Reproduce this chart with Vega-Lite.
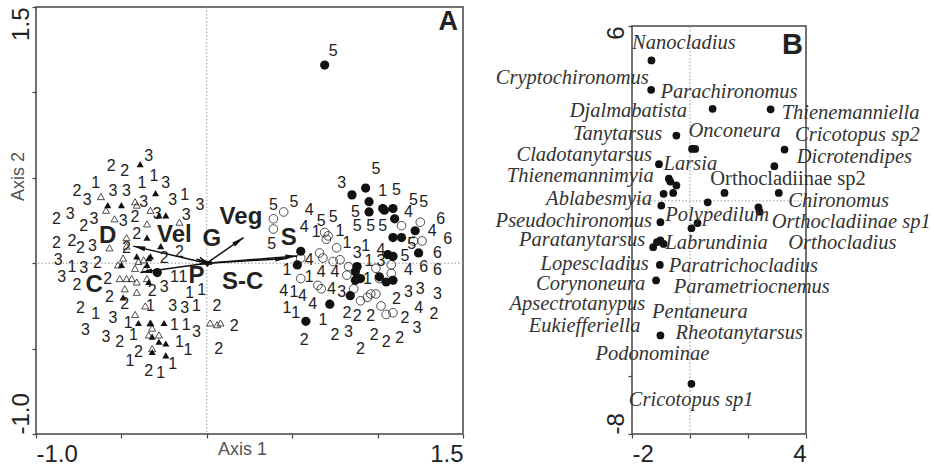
{
"$schema": "https://vega.github.io/schema/vega-lite/v6.json",
"padding": {"left": 8, "top": 5, "right": 2, "bottom": 2},
"background": "white",
"spacing": 30,
"config": {
  "axis": {"grid": false, "domain": false, "labelFont": "Liberation Sans", "labelFontSize": 24, "labelColor": "#222", "tickColor": "#444", "tickSize": 4, "tickWidth": 1.2, "labelOverlap": false, "titleFont": "Liberation Sans", "titleFontSize": 18, "titleFontWeight": "normal", "titleColor": "#555"},
  "text": {"font": "Liberation Sans"}
},
"datasets": {
  "one": [{"k": 1}],
  "sites": [
    {"x":0.69,"y":1.16,"t":"fc"},{"x":0.93,"y":0.44,"t":"fc"},{"x":0.85,"y":0.40,"t":"fc"},{"x":0.95,"y":0.36,"t":"fc"},{"x":1.03,"y":0.32,"t":"fc"},{"x":1.09,"y":0.32,"t":"fc"},{"x":0.95,"y":0.30,"t":"fc"},{"x":1.04,"y":0.31,"t":"fc"},{"x":1.10,"y":0.26,"t":"fc"},{"x":1.22,"y":0.19,"t":"fc"},{"x":1.09,"y":0.15,"t":"fc"},{"x":1.14,"y":0.15,"t":"fc"},{"x":1.24,"y":0.06,"t":"fc"},{"x":0.55,"y":0.07,"t":"fc"},{"x":0.53,"y":-0.01,"t":"fc"},{"x":1.06,"y":0.05,"t":"fc"},{"x":1.09,"y":0.04,"t":"fc"},{"x":0.88,"y":-0.02,"t":"fc"},{"x":0.87,"y":-0.05,"t":"fc"},{"x":0.90,"y":-0.09,"t":"fc"},{"x":0.87,"y":-0.10,"t":"fc"},{"x":1.01,"y":-0.08,"t":"fc"},{"x":1.05,"y":-0.11,"t":"fc"},{"x":1.09,"y":-0.10,"t":"fc"},{"x":0.84,"y":-0.19,"t":"fc"},{"x":0.72,"y":-0.24,"t":"fc"},{"x":0.58,"y":-0.34,"t":"fc"},{"x":-0.29,"y":-0.055,"t":"fc"},
    {"x":0.39,"y":0.26,"t":"oc"},{"x":0.45,"y":0.30,"t":"oc"},{"x":0.39,"y":0.20,"t":"oc"},{"x":0.69,"y":0.18,"t":"oc"},{"x":0.71,"y":0.16,"t":"oc"},{"x":0.70,"y":0.14,"t":"oc"},{"x":0.76,"y":0.09,"t":"oc"},{"x":0.66,"y":0.06,"t":"oc"},{"x":0.68,"y":0.03,"t":"oc"},{"x":0.78,"y":0.02,"t":"oc"},{"x":0.74,"y":0.01,"t":"oc"},{"x":0.83,"y":-0.02,"t":"oc"},{"x":0.82,"y":-0.07,"t":"oc"},{"x":0.86,"y":-0.15,"t":"oc"},{"x":0.90,"y":-0.22,"t":"oc"},{"x":0.94,"y":-0.20,"t":"oc"},{"x":0.96,"y":-0.18,"t":"oc"},{"x":0.99,"y":-0.18,"t":"oc"},{"x":1.02,"y":-0.25,"t":"oc"},{"x":1.05,"y":-0.30,"t":"oc"},{"x":1.09,"y":-0.29,"t":"oc"},{"x":1.14,"y":0.22,"t":"oc"},{"x":1.25,"y":0.24,"t":"oc"},{"x":1.26,"y":0.13,"t":"oc"},{"x":1.21,"y":0.13,"t":"oc"},{"x":1.08,"y":-0.01,"t":"oc"},{"x":1.08,"y":-0.06,"t":"oc"},{"x":0.55,"y":0.03,"t":"oc"},{"x":0.55,"y":-0.09,"t":"oc"},{"x":0.65,"y":-0.13,"t":"oc"},{"x":0.67,"y":-0.15,"t":"oc"},{"x":1.01,"y":-0.09,"t":"oc"},{"x":0.99,"y":-0.03,"t":"oc"},
    {"x":-0.39,"y":0.58,"t":"ft"},{"x":-0.30,"y":0.41,"t":"ft"},{"x":-0.58,"y":0.34,"t":"ft"},{"x":-0.50,"y":0.34,"t":"ft"},{"x":-0.24,"y":0.28,"t":"ft"},{"x":-0.28,"y":0.28,"t":"ft"},{"x":-0.35,"y":0.15,"t":"ft"},{"x":-0.27,"y":0.10,"t":"ft"},{"x":-0.41,"y":0.04,"t":"ft"},{"x":-0.33,"y":0.04,"t":"ft"},{"x":-0.34,"y":0.03,"t":"ft"},{"x":-0.50,"y":-0.01,"t":"ft"},{"x":-0.35,"y":-0.01,"t":"ft"},{"x":-0.49,"y":-0.20,"t":"ft"},{"x":-0.40,"y":-0.35,"t":"ft"},{"x":-0.33,"y":-0.35,"t":"ft"},{"x":-0.25,"y":-0.35,"t":"ft"},{"x":-0.32,"y":-0.43,"t":"ft"},{"x":-0.28,"y":-0.46,"t":"ft"},{"x":-0.24,"y":-0.47,"t":"ft"},{"x":-0.32,"y":-0.52,"t":"ft"},{"x":-0.24,"y":-0.54,"t":"ft"},{"x":-0.34,"y":-0.11,"t":"ft"},
    {"x":-0.62,"y":0.39,"t":"ot"},{"x":-0.59,"y":0.31,"t":"ot"},{"x":-0.54,"y":0.26,"t":"ot"},{"x":-0.42,"y":0.36,"t":"ot"},{"x":-0.41,"y":0.34,"t":"ot"},{"x":-0.33,"y":0.31,"t":"ot"},{"x":-0.35,"y":0.23,"t":"ot"},{"x":-0.47,"y":0.15,"t":"ot"},{"x":-0.16,"y":0.24,"t":"ot"},{"x":-0.57,"y":0.09,"t":"ot"},{"x":-0.47,"y":0.10,"t":"ot"},{"x":-0.49,"y":0.03,"t":"ot"},{"x":-0.52,"y":-0.01,"t":"ot"},{"x":-0.42,"y":-0.03,"t":"ot"},{"x":-0.40,"y":0.01,"t":"ot"},{"x":-0.37,"y":0.02,"t":"ot"},{"x":-0.36,"y":-0.03,"t":"ot"},{"x":-0.51,"y":-0.09,"t":"ot"},{"x":-0.47,"y":-0.09,"t":"ot"},{"x":-0.44,"y":-0.09,"t":"ot"},{"x":-0.41,"y":-0.11,"t":"ot"},{"x":-0.48,"y":-0.15,"t":"ot"},{"x":-0.41,"y":-0.17,"t":"ot"},{"x":-0.35,"y":-0.09,"t":"ot"},{"x":-0.36,"y":-0.25,"t":"ot"},{"x":-0.42,"y":-0.30,"t":"ot"},{"x":-0.33,"y":-0.35,"t":"ot"},{"x":-0.32,"y":-0.38,"t":"ot"},{"x":-0.34,"y":-0.42,"t":"ot"},{"x":-0.28,"y":-0.42,"t":"ot"},{"x":-0.32,"y":-0.50,"t":"ot"},{"x":0.02,"y":-0.35,"t":"ot"},{"x":0.06,"y":-0.36,"t":"ot"},{"x":0.08,"y":-0.35,"t":"ot"}
  ],
  "siteLabels": [
    {"x":-0.34,"y":0.63,"n":"3"},{"x":-0.56,"y":0.57,"n":"2"},{"x":-0.48,"y":0.54,"n":"2"},{"x":-0.65,"y":0.47,"n":"1"},{"x":-0.38,"y":0.47,"n":"1"},{"x":-0.31,"y":0.51,"n":"1"},{"x":-0.24,"y":0.47,"n":"3"},{"x":-0.76,"y":0.42,"n":"2"},{"x":-0.70,"y":0.37,"n":"3"},{"x":-0.55,"y":0.42,"n":"3"},{"x":-0.47,"y":0.42,"n":"3"},{"x":-0.37,"y":0.36,"n":"3"},{"x":-0.20,"y":0.37,"n":"3"},{"x":-0.13,"y":0.40,"n":"1"},{"x":-0.04,"y":0.34,"n":"3"},{"x":-0.88,"y":0.26,"n":"2"},{"x":-0.80,"y":0.29,"n":"3"},{"x":-0.72,"y":0.22,"n":"2"},{"x":-0.66,"y":0.26,"n":"3"},{"x":-0.49,"y":0.25,"n":"3"},{"x":-0.42,"y":0.27,"n":"2"},{"x":-0.29,"y":0.29,"n":"3"},{"x":-0.12,"y":0.28,"n":"3"},{"x":-0.88,"y":0.12,"n":"2"},{"x":-0.79,"y":0.13,"n":"2"},{"x":-0.74,"y":0.09,"n":"2"},{"x":-0.67,"y":0.10,"n":"3"},{"x":-0.41,"y":0.17,"n":"2"},{"x":-0.47,"y":0.09,"n":"2"},{"x":-0.25,"y":0.03,"n":"2"},{"x":-0.16,"y":0.065,"n":"2"},{"x":-0.87,"y":0.02,"n":"3"},{"x":-0.79,"y":-0.02,"n":"1"},{"x":-0.72,"y":-0.03,"n":"3"},{"x":-0.64,"y":0.00,"n":"2"},{"x":-0.85,"y":-0.08,"n":"3"},{"x":-0.76,"y":-0.13,"n":"2"},{"x":-0.58,"y":-0.09,"n":"2"},{"x":-0.19,"y":-0.08,"n":"1"},{"x":-0.14,"y":-0.08,"n":"1"},{"x":-0.32,"y":-0.16,"n":"2"},{"x":-0.25,"y":-0.14,"n":"3"},{"x":-0.10,"y":-0.175,"n":"1"},{"x":-0.03,"y":-0.155,"n":"1"},{"x":-0.57,"y":-0.20,"n":"2"},{"x":-0.48,"y":-0.24,"n":"2"},{"x":-0.74,"y":-0.26,"n":"2"},{"x":-0.65,"y":-0.30,"n":"1"},{"x":-0.55,"y":-0.32,"n":"3"},{"x":-0.46,"y":-0.35,"n":"1"},{"x":-0.33,"y":-0.25,"n":"1"},{"x":-0.20,"y":-0.25,"n":"3"},{"x":-0.13,"y":-0.26,"n":"3"},{"x":-0.06,"y":-0.25,"n":"1"},{"x":0.06,"y":-0.25,"n":"2"},{"x":-0.71,"y":-0.39,"n":"3"},{"x":-0.59,"y":-0.43,"n":"3"},{"x":-0.51,"y":-0.46,"n":"2"},{"x":-0.43,"y":-0.42,"n":"1"},{"x":-0.19,"y":-0.36,"n":"1"},{"x":-0.12,"y":-0.36,"n":"1"},{"x":-0.06,"y":-0.40,"n":"3"},{"x":0.16,"y":-0.37,"n":"2"},{"x":-0.16,"y":-0.46,"n":"1"},{"x":-0.11,"y":-0.51,"n":"1"},{"x":0.07,"y":-0.50,"n":"2"},{"x":-0.40,"y":-0.52,"n":"2"},{"x":-0.45,"y":-0.57,"n":"1"},{"x":-0.34,"y":-0.63,"n":"2"},{"x":-0.27,"y":-0.64,"n":"1"},{"x":-0.20,"y":-0.59,"n":"1"},
    {"x":0.74,"y":1.24,"n":"5"},{"x":0.99,"y":0.55,"n":"5"},{"x":0.79,"y":0.47,"n":"3"},{"x":1.03,"y":0.42,"n":"1"},{"x":1.11,"y":0.43,"n":"5"},{"x":1.21,"y":0.37,"n":"5"},{"x":1.27,"y":0.36,"n":"5"},{"x":0.39,"y":0.34,"n":"5"},{"x":0.51,"y":0.36,"n":"5"},{"x":0.60,"y":0.31,"n":"4"},{"x":1.18,"y":0.30,"n":"4"},{"x":0.67,"y":0.25,"n":"5"},{"x":0.74,"y":0.27,"n":"5"},{"x":0.87,"y":0.30,"n":"5"},{"x":1.37,"y":0.26,"n":"6"},{"x":0.57,"y":0.21,"n":"4"},{"x":0.64,"y":0.18,"n":"1"},{"x":0.78,"y":0.19,"n":"1"},{"x":0.88,"y":0.22,"n":"5"},{"x":0.96,"y":0.22,"n":"5"},{"x":1.03,"y":0.22,"n":"5"},{"x":1.32,"y":0.19,"n":"4"},{"x":1.41,"y":0.14,"n":"6"},{"x":0.38,"y":0.11,"n":"5"},{"x":0.82,"y":0.12,"n":"1"},{"x":0.93,"y":0.10,"n":"1"},{"x":1.02,"y":0.08,"n":"4"},{"x":1.20,"y":0.11,"n":"5"},{"x":0.88,"y":0.06,"n":"3"},{"x":0.95,"y":0.01,"n":"1"},{"x":1.02,"y":0.01,"n":"3"},{"x":1.16,"y":0.04,"n":"5"},{"x":1.35,"y":0.06,"n":"6"},{"x":0.60,"y":0.02,"n":"4"},{"x":0.47,"y":-0.04,"n":"1"},{"x":0.60,"y":-0.08,"n":"1"},{"x":0.67,"y":-0.05,"n":"4"},{"x":0.75,"y":-0.05,"n":"4"},{"x":0.94,"y":-0.09,"n":"1"},{"x":1.27,"y":-0.02,"n":"6"},{"x":1.35,"y":-0.04,"n":"6"},{"x":1.18,"y":-0.04,"n":"4"},{"x":0.45,"y":-0.16,"n":"4"},{"x":0.51,"y":-0.17,"n":"1"},{"x":0.56,"y":-0.19,"n":"4"},{"x":0.73,"y":-0.15,"n":"4"},{"x":0.79,"y":-0.17,"n":"3"},{"x":1.18,"y":-0.17,"n":"3"},{"x":1.25,"y":-0.15,"n":"3"},{"x":1.35,"y":-0.18,"n":"3"},{"x":1.11,"y":-0.21,"n":"2"},{"x":0.47,"y":-0.26,"n":"1"},{"x":0.52,"y":-0.29,"n":"1"},{"x":0.62,"y":-0.24,"n":"4"},{"x":0.82,"y":-0.29,"n":"2"},{"x":0.88,"y":-0.31,"n":"2"},{"x":0.96,"y":-0.31,"n":"2"},{"x":1.24,"y":-0.26,"n":"4"},{"x":1.33,"y":-0.30,"n":"2"},{"x":0.68,"y":-0.33,"n":"1"},{"x":1.16,"y":-0.32,"n":"2"},{"x":1.23,"y":-0.38,"n":"3"},{"x":0.57,"y":-0.45,"n":"2"},{"x":0.75,"y":-0.42,"n":"2"},{"x":0.83,"y":-0.40,"n":"3"},{"x":0.90,"y":-0.50,"n":"2"},{"x":0.98,"y":-0.42,"n":"2"},{"x":1.05,"y":-0.46,"n":"2"},{"x":1.13,"y":-0.44,"n":"2"}
  ],
  "vectors": [
    {"v":"D","x":-0.43,"y":0.10},{"v":"Vel","x":-0.06,"y":0.025},{"v":"G","x":-0.04,"y":0.035},{"v":"Veg","x":0.215,"y":0.15},{"v":"S","x":0.53,"y":0.042},{"v":"C","x":-0.39,"y":-0.055},{"v":"P","x":-0.04,"y":-0.005},{"v":"S-C","x":0.47,"y":0.028}
  ],
  "vecLabels": [
    {"v":"D","x":-0.58,"y":0.16},{"v":"Vel","x":-0.19,"y":0.165},{"v":"G","x":0.03,"y":0.14},{"v":"Veg","x":0.20,"y":0.27},{"v":"S","x":0.48,"y":0.15},{"v":"C","x":-0.66,"y":-0.13},{"v":"P","x":-0.06,"y":-0.075},{"v":"S-C","x":0.21,"y":-0.11}
  ],
  "species": [
    {"x":-1.33,"y":4.82},{"x":-1.34,"y":3.81},{"x":0.78,"y":3.16},{"x":2.78,"y":3.14},{"x":-0.47,"y":2.24},{"x":0.07,"y":1.78},{"x":0.18,"y":1.78},{"x":3.26,"y":1.76},{"x":-1.07,"y":1.26},{"x":2.91,"y":1.19},{"x":-0.73,"y":0.76},{"x":-0.68,"y":0.66},{"x":-0.47,"y":0.53},{"x":-0.91,"y":0.24},{"x":-0.58,"y":0.27},{"x":1.19,"y":0.27},{"x":3.06,"y":0.27},{"x":-0.99,"y":-0.16},{"x":0.61,"y":-0.05},{"x":2.36,"y":-0.22},{"x":2.40,"y":-0.37},{"x":-1.02,"y":-0.73},{"x":0.26,"y":-0.76},{"x":0.05,"y":-0.94},{"x":-1.02,"y":-1.36},{"x":-1.14,"y":-1.42},{"x":-0.91,"y":-1.48},{"x":-1.27,"y":-1.59},{"x":-1.04,"y":-2.20},{"x":-1.17,"y":-2.73},{"x":-1.02,"y":-4.62},{"x":0.05,"y":-6.28}
  ],
  "speciesLabels": [
    {"name":"Cryptochironomus","x":-1.42,"y":4.21,"side":"R"},{"name":"Djalmabatista","x":-0.10,"y":3.07,"side":"R"},{"name":"Tanytarsus","x":-0.96,"y":2.30,"side":"R"},{"name":"Cladotanytarsus","x":-1.31,"y":1.59,"side":"R"},{"name":"Thienemannimyia","x":-1.25,"y":0.85,"side":"R"},{"name":"Ablabesmyia","x":-1.31,"y":0.05,"side":"R"},{"name":"Pseudochironomus","x":-1.31,"y":-0.68,"side":"R"},{"name":"Paratanytarsus","x":-1.54,"y":-1.33,"side":"R"},{"name":"Lopescladius","x":-1.42,"y":-2.16,"side":"R"},{"name":"Corynoneura","x":-1.54,"y":-2.85,"side":"R"},{"name":"Apsectrotanypus","x":-1.54,"y":-3.54,"side":"R"},{"name":"Eukiefferiella","x":-1.71,"y":-4.28,"side":"R"},
    {"name":"Nanocladius","x":-2.0,"y":5.42,"side":"L"},{"name":"Parachironomus","x":-1.02,"y":3.73,"side":"L"},{"name":"Thienemanniella","x":3.16,"y":3.02,"side":"L"},{"name":"Onconeura","x":-0.05,"y":2.41,"side":"L"},{"name":"Cricotopus sp2","x":3.62,"y":2.25,"side":"L"},{"name":"Dicrotendipes","x":3.68,"y":1.50,"side":"L"},{"name":"Larsia","x":-0.91,"y":1.28,"side":"L"},{"name":"Orthocladiinae sp2","x":0.70,"y":0.76,"side":"N"},{"name":"Chironomus","x":3.39,"y":0.01,"side":"L"},{"name":"Polypedilum","x":-0.85,"y":-0.50,"side":"L"},{"name":"Orthocladiinae sp1","x":2.82,"y":-0.71,"side":"L"},{"name":"Labrundinia","x":-0.85,"y":-1.44,"side":"L"},{"name":"Orthocladius","x":3.39,"y":-1.44,"side":"L"},{"name":"Paratrichocladius","x":-0.73,"y":-2.22,"side":"L"},{"name":"Parametriocnemus","x":-0.56,"y":-2.96,"side":"L"},{"name":"Pentaneura","x":-1.31,"y":-3.80,"side":"L"},{"name":"Rheotanytarsus","x":-0.50,"y":-4.54,"side":"L"},{"name":"Podonominae","x":-3.26,"y":-5.25,"side":"L"},{"name":"Cricotopus sp1","x":-2.11,"y":-6.85,"side":"L"}
  ]
},
"hconcat": [
  {
    "width": 427, "height": 427,
    "view": {"stroke": "#444", "strokeWidth": 1.5},
    "layer": [
      {"data": {"name": "one"}, "mark": {"type": "rule", "strokeDash": [1.5, 2], "color": "#999", "strokeWidth": 1}, "encoding": {"x": {"datum": 0, "type": "quantitative"}}},
      {"data": {"name": "one"}, "mark": {"type": "rule", "strokeDash": [1.5, 2], "color": "#999", "strokeWidth": 1}, "encoding": {"y": {"datum": 0, "type": "quantitative"}}},
      {"data": {"name": "sites"}, "transform": [{"filter": "datum.t == 'ot'"}],
       "mark": {"type": "point", "shape": "triangle-up", "size": 50, "filled": false, "color": "#222", "strokeWidth": 0.8, "opacity": 1},
       "encoding": {
         "x": {"field": "x", "type": "quantitative", "scale": {"domain": [-1, 1.5], "nice": false, "zero": false},
               "axis": {"title": "Axis 1", "values": [-1, -0.5, 0, 0.5, 1, 1.5], "labelExpr": "datum.value == -1 ? '-1.0' : datum.value == 1.5 ? '1.5' : ''", "labelFlush": true, "labelPadding": 4, "titleX": 206, "titleY": 15, "titleAlign": "center", "titleBaseline": "middle"}},
         "y": {"field": "y", "type": "quantitative", "scale": {"domain": [-1, 1.5], "nice": false, "zero": false},
               "axis": {"title": "Axis 2", "values": [-1, -0.5, 0, 0.5, 1, 1.5], "labelExpr": "datum.value == -1 ? '-1.0' : datum.value == 1.5 ? '1.5' : ''", "labelAngle": -90, "labelAlign": {"condition": {"test": "datum.value == 1.5", "value": "right"}, "value": "left"}, "labelBaseline": "alphabetic", "labelPadding": 4, "titleX": -18, "titleY": 169, "titleAngle": -90, "titleAlign": "center", "titleBaseline": "middle"}}
       }},
      {"data": {"name": "sites"}, "transform": [{"filter": "datum.t == 'oc'"}],
       "mark": {"type": "point", "shape": "circle", "size": 75, "filled": false, "color": "#222", "strokeWidth": 0.8, "opacity": 1},
       "encoding": {"x": {"field": "x", "type": "quantitative"}, "y": {"field": "y", "type": "quantitative"}}},
      {"data": {"name": "sites"}, "transform": [{"filter": "datum.t == 'ft'"}],
       "mark": {"type": "point", "shape": "triangle-up", "size": 50, "filled": true, "color": "#111", "opacity": 1},
       "encoding": {"x": {"field": "x", "type": "quantitative"}, "y": {"field": "y", "type": "quantitative"}}},
      {"data": {"name": "sites"}, "transform": [{"filter": "datum.t == 'fc'"}],
       "mark": {"type": "point", "shape": "circle", "size": 85, "filled": true, "color": "#111", "opacity": 1},
       "encoding": {"x": {"field": "x", "type": "quantitative"}, "y": {"field": "y", "type": "quantitative"}}},
      {"data": {"name": "siteLabels"},
       "mark": {"type": "text", "fontSize": 16, "color": "#222", "align": "center", "baseline": "middle"},
       "encoding": {"x": {"field": "x", "type": "quantitative"}, "y": {"field": "y", "type": "quantitative"}, "text": {"field": "n", "type": "nominal"}}},
      {"data": {"name": "vectors"},
       "mark": {"type": "rule", "color": "#111", "strokeWidth": 1.5},
       "encoding": {"x": {"field": "x", "type": "quantitative"}, "y": {"field": "y", "type": "quantitative"}, "x2": {"datum": 0}, "y2": {"datum": 0}}},
      {"data": {"name": "vectors"}, "transform": [{"calculate": "atan2(datum.x, datum.y) * 180 / PI", "as": "ang"}],
       "mark": {"type": "point", "shape": "M0,0L-0.6,3L0.6,3Z", "size": 64, "filled": true, "color": "#111", "opacity": 1},
       "encoding": {"x": {"field": "x", "type": "quantitative"}, "y": {"field": "y", "type": "quantitative"}, "angle": {"field": "ang", "type": "quantitative", "scale": null}}},
      {"data": {"name": "vecLabels"},
       "mark": {"type": "text", "fontSize": 24, "fontWeight": "bold", "color": "#222", "align": "center", "baseline": "middle"},
       "encoding": {"x": {"field": "x", "type": "quantitative"}, "y": {"field": "y", "type": "quantitative"}, "text": {"field": "v", "type": "nominal"}}},
      {"data": {"name": "one"}, "mark": {"type": "text", "text": "A", "fontSize": 27, "fontWeight": "bold", "color": "#222", "align": "center", "baseline": "middle"},
       "encoding": {"x": {"datum": 1.414, "type": "quantitative"}, "y": {"datum": 1.413, "type": "quantitative"}}}
    ]
  },
  {
    "width": 174, "height": 427,
    "view": {"stroke": null},
    "layer": [
      {"data": {"name": "one"}, "mark": {"type": "rect", "filled": false, "color": "#444", "strokeWidth": 1.5},
       "encoding": {"x": {"datum": -2, "type": "quantitative"}, "x2": {"datum": 4}, "y": {"datum": -8, "type": "quantitative"}, "y2": {"datum": 6}}},
      {"data": {"name": "one"}, "mark": {"type": "rule", "strokeDash": [1.5, 2], "color": "#999", "strokeWidth": 1}, "encoding": {"x": {"datum": 0, "type": "quantitative"}, "y": {"datum": -8, "type": "quantitative"}, "y2": {"datum": 6}}},
      {"data": {"name": "one"}, "mark": {"type": "rule", "strokeDash": [1.5, 2], "color": "#999", "strokeWidth": 1}, "encoding": {"y": {"datum": 0, "type": "quantitative"}}},
      {"data": {"name": "species"},
       "mark": {"type": "circle", "size": 60, "color": "#111", "opacity": 1},
       "encoding": {
         "x": {"field": "x", "type": "quantitative", "scale": {"domain": [-2, 4], "nice": false, "zero": false},
               "axis": {"title": null, "values": [-2, -1, 0, 1, 2, 3, 4], "labelExpr": "datum.value == -2 ? '-2' : datum.value == 4 ? '4' : ''", "labelFlush": true, "labelPadding": 4}},
         "y": {"field": "y", "type": "quantitative", "scale": {"domain": [-8, 6.652], "nice": false, "zero": false},
               "axis": {"title": null, "values": [-8, -6, 6], "labelExpr": "datum.value == 6 ? '6' : datum.value == -8 ? '-8' : ''", "labelAngle": -90, "labelAlign": {"condition": {"test": "datum.value == 6", "value": "right"}, "value": "left"}, "labelBaseline": "alphabetic", "labelPadding": 5}}
       }},
      {"data": {"name": "speciesLabels"}, "transform": [{"filter": "datum.side == 'R'"}],
       "mark": {"type": "text", "font": "Liberation Serif", "fontStyle": "italic", "fontSize": 20.5, "color": "#333", "align": "right", "baseline": "middle"},
       "encoding": {"x": {"field": "x", "type": "quantitative"}, "y": {"field": "y", "type": "quantitative"}, "text": {"field": "name", "type": "nominal"}}},
      {"data": {"name": "speciesLabels"}, "transform": [{"filter": "datum.side == 'L'"}],
       "mark": {"type": "text", "font": "Liberation Serif", "fontStyle": "italic", "fontSize": 20.5, "color": "#333", "align": "left", "baseline": "middle"},
       "encoding": {"x": {"field": "x", "type": "quantitative"}, "y": {"field": "y", "type": "quantitative"}, "text": {"field": "name", "type": "nominal"}}},
      {"data": {"name": "speciesLabels"}, "transform": [{"filter": "datum.side == 'N'"}],
       "mark": {"type": "text", "font": "Liberation Serif", "fontSize": 20.5, "color": "#333", "align": "left", "baseline": "middle"},
       "encoding": {"x": {"field": "x", "type": "quantitative"}, "y": {"field": "y", "type": "quantitative"}, "text": {"field": "name", "type": "nominal"}}},
      {"data": {"name": "one"}, "mark": {"type": "text", "text": "B", "fontSize": 29, "fontWeight": "bold", "color": "#222", "align": "center", "baseline": "middle"},
       "encoding": {"x": {"datum": 3.53, "type": "quantitative"}, "y": {"datum": 5.36, "type": "quantitative"}}}
    ]
  }
]
}
